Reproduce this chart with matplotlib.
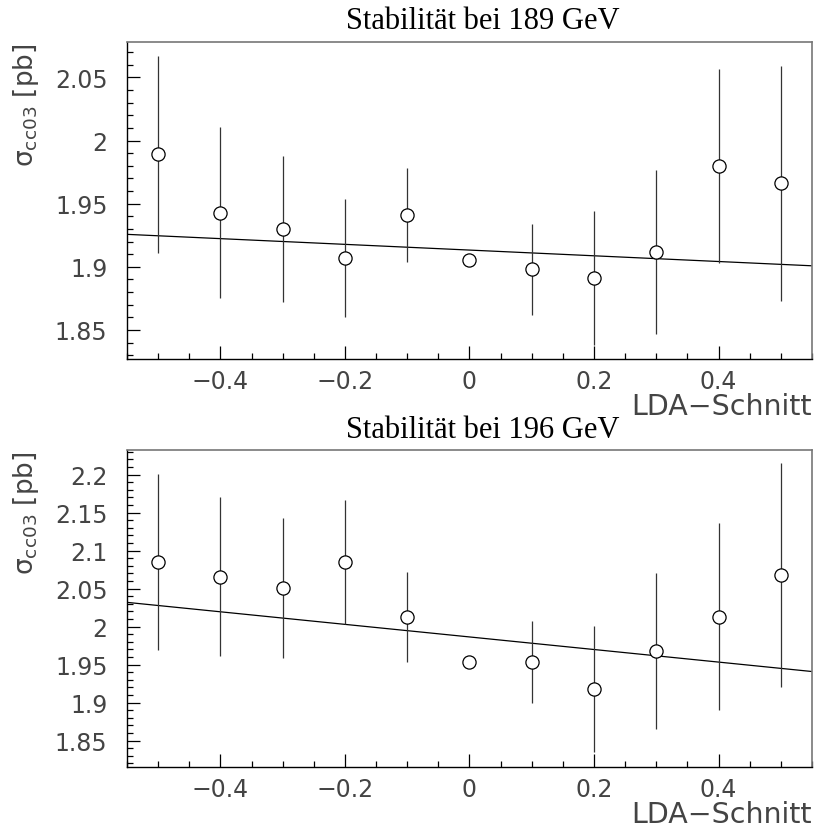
import matplotlib
matplotlib.use("Agg")
import matplotlib.pyplot as plt
from matplotlib.ticker import MultipleLocator, FuncFormatter

plt.rcParams["mathtext.default"] = "regular"

# LDA cut values
lda_cut = [-0.5, -0.4, -0.3, -0.2, -0.1, 0.0, 0.1, 0.2, 0.3, 0.4, 0.5]

# 189 GeV
sigma_189 = [1.989, 1.943, 1.930, 1.907, 1.941, 1.905, 1.898, 1.891, 1.912, 1.980, 1.966]
err_189 = [0.078, 0.068, 0.058, 0.047, 0.037, 0.0, 0.036, 0.053, 0.065, 0.077, 0.093]
fit_x_189 = [-0.55, 0.55]
fit_y_189 = [1.9257, 1.9008]

# 196 GeV
sigma_196 = [2.085, 2.066, 2.051, 2.085, 2.013, 1.953, 1.954, 1.918, 1.968, 2.013, 2.068]
err_196 = [0.116, 0.104, 0.092, 0.082, 0.059, 0.0, 0.054, 0.083, 0.103, 0.123, 0.147]
fit_x_196 = [-0.55, 0.55]
fit_y_196 = [2.032, 1.941]

titles = ["Stabilität bei 189 GeV", "Stabilität bei 196 GeV"]
ylims = [(1.827, 2.078), (1.815, 2.2325)]

fig = plt.figure(figsize=(8.15, 8.37), dpi=100)
ax1 = fig.add_axes([0.1558, 0.5699, 0.8405, 0.3787])
ax2 = fig.add_axes([0.1558, 0.0821, 0.8405, 0.3791])

def fmt(v, pos):
    return ("%g" % round(v, 3)).replace("-", "\u2212")

panels = [
    (ax1, sigma_189, err_189, fit_x_189, fit_y_189),
    (ax2, sigma_196, err_196, fit_x_196, fit_y_196),
]

for i, (ax, y, err, fx, fy) in enumerate(panels):
    ax.plot(fx, fy, color="black", lw=0.9, zorder=2)
    ax.errorbar(lda_cut, y, yerr=err, fmt="o", mfc="white", mec="black",
                ms=9.5, mew=0.9, ecolor="#333333", elinewidth=0.9,
                capsize=0, zorder=3)
    ax.set_xlim(-0.55, 0.55)
    ax.set_ylim(*ylims[i])

    ax.xaxis.set_major_locator(MultipleLocator(0.2))
    ax.xaxis.set_minor_locator(MultipleLocator(0.05))
    ax.yaxis.set_major_locator(MultipleLocator(0.05))
    ax.yaxis.set_minor_locator(MultipleLocator(0.01))
    ax.xaxis.set_major_formatter(FuncFormatter(fmt))
    ax.yaxis.set_major_formatter(FuncFormatter(fmt))

    ax.tick_params(which="both", direction="in", top=False, right=False,
                   labelsize=17, labelcolor="#444444", width=0.9)
    ax.tick_params(axis="x", which="major", length=9.5, pad=7)
    ax.tick_params(axis="y", which="major", length=9.5, pad=14)
    ax.tick_params(which="minor", length=4.5)

    for s in ["top", "right"]:
        ax.spines[s].set_color("#777777")
        ax.spines[s].set_linewidth(1.2)
    for s in ["left", "bottom"]:
        ax.spines[s].set_color("black")
        ax.spines[s].set_linewidth(1.0)

    ax.text(0.52, 1.045 if i == 0 else 1.041, titles[i], transform=ax.transAxes,
            ha="center", va="baseline", fontsize=22,
            family="Liberation Serif")

    ax.text(1.0, -0.148, "LDA\u2212Schnitt", transform=ax.transAxes,
            ha="right", va="center", fontsize=20.5, color="#444444")

    ax.set_ylabel("\u03c3$_{cc03}$ [pb]", fontsize=19,
                  color="#444444", loc="top")
    ax.yaxis.set_label_coords(-0.125, 1.0)

fig.savefig("out.png", dpi=100)
